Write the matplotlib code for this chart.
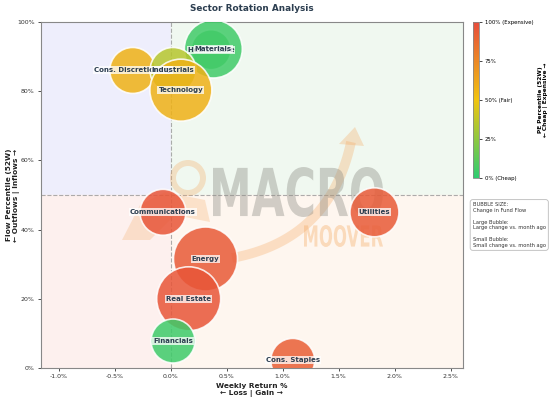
import matplotlib
matplotlib.use("Agg")
import matplotlib.pyplot as plt
import numpy as np
from matplotlib.colors import LinearSegmentedColormap
from matplotlib.patches import Rectangle, PathPatch, Polygon, Wedge
from matplotlib.textpath import TextPath
from matplotlib.font_manager import FontProperties
from matplotlib.transforms import Affine2D, IdentityTransform

sectors = ["Health Care", "Materials", "Cons. Discretionary", "Industrials", "Technology",
           "Communications", "Utilities", "Energy", "Real Estate", "Financials", "Cons. Staples"]
weekly_return = [0.36, 0.38, -0.34, 0.02, 0.09, -0.07, 1.82, 0.31, 0.16, 0.02, 1.09]
flow_pct = [92.0, 92.2, 86.0, 86.0, 80.3, 45.0, 45.0, 31.5, 20.0, 7.8, 2.2]
pe_pct = [8, 5, 58, 35, 58, 96, 94, 94, 96, 4, 92]
flow_change = [20, 29, 23, 23, 31, 23, 24.5, 32, 32, 22, 22]

xlim = (-1.16, 2.61)
ylim = (0, 100)
xticks = [-1.0, -0.5, 0.0, 0.5, 1.0, 1.5, 2.0, 2.5]
yticks = [0, 20, 40, 60, 80, 100]
cbar_ticks = [0, 25, 50, 75, 100]
cbar_labels = ["0% (Cheap)", "25%", "50% (Fair)", "75%", "100% (Expensive)"]

dark = "#2c3e50"
cmap = LinearSegmentedColormap.from_list("pe", ["#2ecc71", "#f1c40f", "#e74c3c"])

W, H = 551, 398
fig = plt.figure(figsize=(5.51, 3.98), dpi=100)
ax = fig.add_axes([0.0744, 0.0754, 0.7656, 0.8693])
ax.set_xlim(*xlim)
ax.set_ylim(*ylim)

# quadrant backgrounds
ax.add_patch(Rectangle((xlim[0], 50), 0 - xlim[0], 50, color="#eeeefc", zorder=0))
ax.add_patch(Rectangle((0, 50), xlim[1], 50, color="#f0f8f0", zorder=0))
ax.add_patch(Rectangle((xlim[0], 0), 0 - xlim[0], 50, color="#fdf0ee", zorder=0))
ax.add_patch(Rectangle((0, 0), xlim[1], 50, color="#fef6ef", zorder=0))
ax.axhline(50, color="#999999", ls="--", lw=0.8, alpha=0.8, zorder=1)
ax.axvline(0, color="#999999", ls="--", lw=0.8, alpha=0.8, zorder=1)

# watermark (decoration, in pixel coordinates; y measured from the top)
def fitted_text(s, x0, x1, ytop, ybot, color, alpha):
    tp = TextPath((0, 0), s, size=100, prop=FontProperties(family="DejaVu Sans", weight="bold"))
    ext = tp.get_extents()
    sx = (x1 - x0) / ext.width
    sy = (ybot - ytop) / ext.height
    tr = Affine2D().translate(-ext.x0, -ext.y0).scale(sx, sy).translate(x0, H - ybot)
    p = PathPatch(tr.transform_path(tp), transform=IdentityTransform(), fc=color, ec="none",
                  alpha=alpha, zorder=1.5)
    ax.add_artist(p)
    p.set_clip_path(ax.patch)

orange = "#f5a65b"
t = np.linspace(0, 1, 60)
p0, p1, p2 = np.array([232, 258]), np.array([330, 240]), np.array([351, 142])
curve = ((1 - t)[:, None] ** 2) * p0 + (2 * (1 - t) * t)[:, None] * p1 + (t[:, None] ** 2) * p2
ax.plot(curve[:, 0], H - curve[:, 1], transform=IdentityTransform(), color=orange, alpha=0.3,
        lw=7, solid_capstyle="butt", zorder=1.2)
ax.add_artist(Polygon([[339, H - 144], [364, H - 146], [355, H - 127]], closed=True,
                      transform=IdentityTransform(), fc=orange, ec="none", alpha=0.3, zorder=1.2))
ax.add_artist(Wedge((188, H - 178), 18, 0, 360, width=6, transform=IdentityTransform(),
                    fc=orange, ec="none", alpha=0.3, zorder=1.2))
ax.add_artist(Polygon([[122, H - 240], [140, H - 205], [165, H - 192], [205, H - 200],
                       [210, H - 222], [175, H - 215], [150, H - 240]], closed=True,
                      transform=IdentityTransform(), fc=orange, ec="none", alpha=0.25, zorder=1.2))
fitted_text("MACRO", 213, 383, 167, 217, "#8e8e86", 0.4)
fitted_text("MOOVER", 304, 383, 225, 247, orange, 0.35)

# bubbles
sizes = [(2 * r * 0.72) ** 2 for r in flow_change]
ax.scatter(weekly_return, flow_pct, s=sizes, c=pe_pct, cmap=cmap, vmin=0, vmax=100,
           alpha=0.85, edgecolors="white", linewidths=1.2, zorder=3)
for name, x, y in zip(sectors, weekly_return, flow_pct):
    ax.text(x, y, name, fontsize=5, fontweight="bold", color=dark, ha="center", va="center",
            zorder=5, bbox=dict(boxstyle="square,pad=0.15", fc="white", ec="none", alpha=0.75))

ax.set_xticks(xticks)
ax.set_xticklabels([f"{t:.1f}%" for t in xticks], fontsize=4.5)
ax.set_yticks(yticks)
ax.set_yticklabels([f"{t}%" for t in yticks], fontsize=4.5)
ax.tick_params(length=2.5, width=0.6, colors="#333333", pad=2)
for sp in ax.spines.values():
    sp.set_color("#888888")
    sp.set_linewidth(0.8)

ax.set_xlabel("Weekly Return %\n← Loss | Gain →", fontsize=5.3, fontweight="bold",
              color="#222222", labelpad=3, linespacing=1.1)
ax.set_ylabel("Flow Percentile (52W)\n← Outflows | Inflows →", fontsize=5.3, fontweight="bold",
              color="#222222", linespacing=1.1)
ax.yaxis.set_label_coords(-0.05, 0.5)
ax.set_title("Sector Rotation Analysis", fontsize=6.4, fontweight="bold", color=dark, pad=8)

# colorbar
cax = fig.add_axes([0.858, 0.553, 0.012, 0.392])
sm = plt.cm.ScalarMappable(cmap=cmap, norm=plt.Normalize(0, 100))
cb = fig.colorbar(sm, cax=cax)
cb.set_alpha(0.85)
cb.set_ticks(cbar_ticks)
cb.set_ticklabels(cbar_labels)
cb.ax.tick_params(labelsize=3.9, length=2, width=0.5, pad=2)
cb.outline.set_edgecolor("#888888")
cb.outline.set_linewidth(0.6)
cb.set_label("PE Percentile (52W)\n← Cheap | Expensive →", fontsize=4.2, fontweight="bold",
             linespacing=1.1)
cb.ax.yaxis.set_label_coords(9.8, 0.5)

# legend box
fig.text(0.858, 0.492, "BUBBLE SIZE:\nChange in Fund Flow\n\nLarge Bubble:\nLarge change vs. month ago\n\nSmall Bubble:\nSmall change vs. month ago",
         fontsize=3.7, va="top", ha="left", color="#333333", linespacing=1.2,
         bbox=dict(boxstyle="round,pad=0.5", fc="white", ec="#bbbbbb", lw=0.6))

fig.savefig("out.png", dpi=100)
